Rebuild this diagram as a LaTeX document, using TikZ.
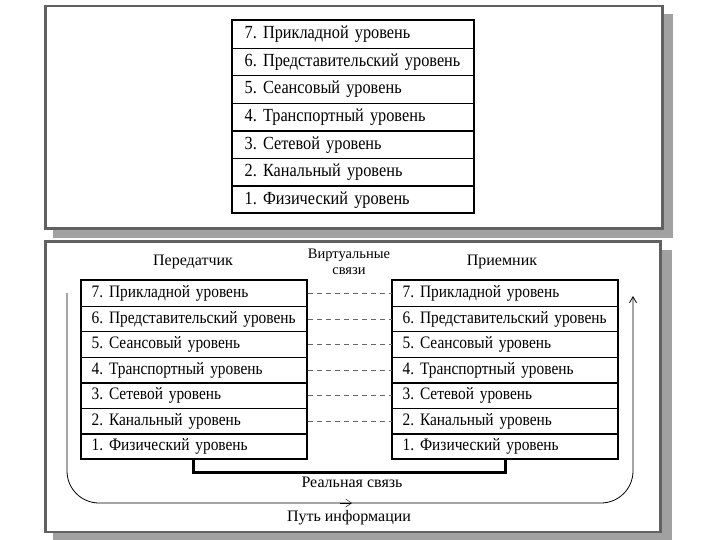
\documentclass[tikz,border=0pt]{standalone}
\usepackage{fontspec}
\setmainfont{Liberation Serif}
\newfontfamily\rowfont[FakeStretch=0.88]{Liberation Serif}
\usetikzlibrary{arrows.meta}
\frenchspacing
\begin{document}
\begin{tikzpicture}[x=1pt,y=-1pt,
  framebox/.style={fill=white,draw=black!62,line width=2.6pt},
  shadowbox/.style={fill=black!37,draw=none},
  toprow/.style={draw=black,line width=1.3pt,fill=white,minimum width=242pt,minimum height=27.57pt,
     inner xsep=0pt,text width=242pt,align=left,anchor=north west,inner ysep=0pt,
     font=\rowfont\fontsize{18.5}{21}\selectfont},
  botrow/.style={draw=black,line width=1.3pt,fill=white,minimum width=226pt,minimum height=25.57pt,
     inner xsep=0pt,text width=226pt,align=left,anchor=north west,inner ysep=0pt,
     font=\rowfont\fontsize{17.5}{20}\selectfont},
  lbl/.style={font=\fontsize{16}{18}\selectfont,inner sep=0pt},
  virt/.style={draw=black!60,line width=1pt,dash pattern=on 5pt off 4pt},
  reallink/.style={draw=black,line width=3pt},
  infopath/.style={draw=black,line width=0.8pt,rounded corners=32pt},
  chev/.style={-{Straight Barb[length=6pt,width=8pt]}}
]
\useasboundingbox (0,0) rectangle (720,540);
% top panel
\fill[shadowbox] (53,14) rectangle (673,238);
\draw[framebox] (45.5,6) rectangle (662.5,228.5);
% bottom panel
\fill[shadowbox] (53,250) rectangle (672,540);
\draw[framebox] (45.5,241.5) rectangle (660.5,532);

\foreach \i/\t in {0/7. Прикладной уровень,1/6. Представительский уровень,2/5. Сеансовый уровень,3/4. Транспортный уровень,4/3. Сетевой уровень,5/2. Канальный уровень,6/1. Физический уровень}{
  \node[toprow] (T\i) at (232,{20+27.57*\i}) {\hspace*{12pt}\mbox{\t}};
  \node[botrow] (L\i) at (81,{280+25.57*\i}) {\hspace*{10pt}\mbox{\t}};
  \node[botrow] (R\i) at (392,{280+25.57*\i}) {\hspace*{10pt}\mbox{\t}};
}
\draw[black,line width=2.4pt] (232,20) rectangle (474,213);
\draw[black,line width=1.8pt] (81,280) rectangle (307,459);
\draw[black,line width=1.8pt] (392,280) rectangle (618,459);

\node[lbl] (tx) at (193,262) {Передатчик};
\node[lbl] (rx) at (502,262) {Приемник};
\node[lbl,align=center,font=\fontsize{14.5}{16}\selectfont] (vl) at (349,262) {Виртуальные\\связи};

\foreach \i in {0,...,5}{
  \draw[virt] (L\i.east) -- (R\i.west);
}

\coordinate (la) at (193,459);
\coordinate (lb) at (193,472);
\coordinate (rb) at (505,472);
\coordinate (ra) at (505,459);
\draw[reallink] (la) -- (lb) -- (rb) -- (ra);
\node[lbl] (rl) at (352,482) {Реальная связь};

\coordinate (ps) at (67,293);
\coordinate (pc1) at (67,503);
\coordinate (pm) at (352,503);
\coordinate (pc2) at (633,503);
\coordinate (pe) at (633,296);
\draw[infopath,-{Straight Barb[length=6pt,width=7pt]}] (ps) -- (pc1) -- (pc2) -- (pe);
\draw[chev] (340,503) -- (pm);
\node[lbl] (pl) at (349,518) {Путь информации};
\end{tikzpicture}
\end{document}
